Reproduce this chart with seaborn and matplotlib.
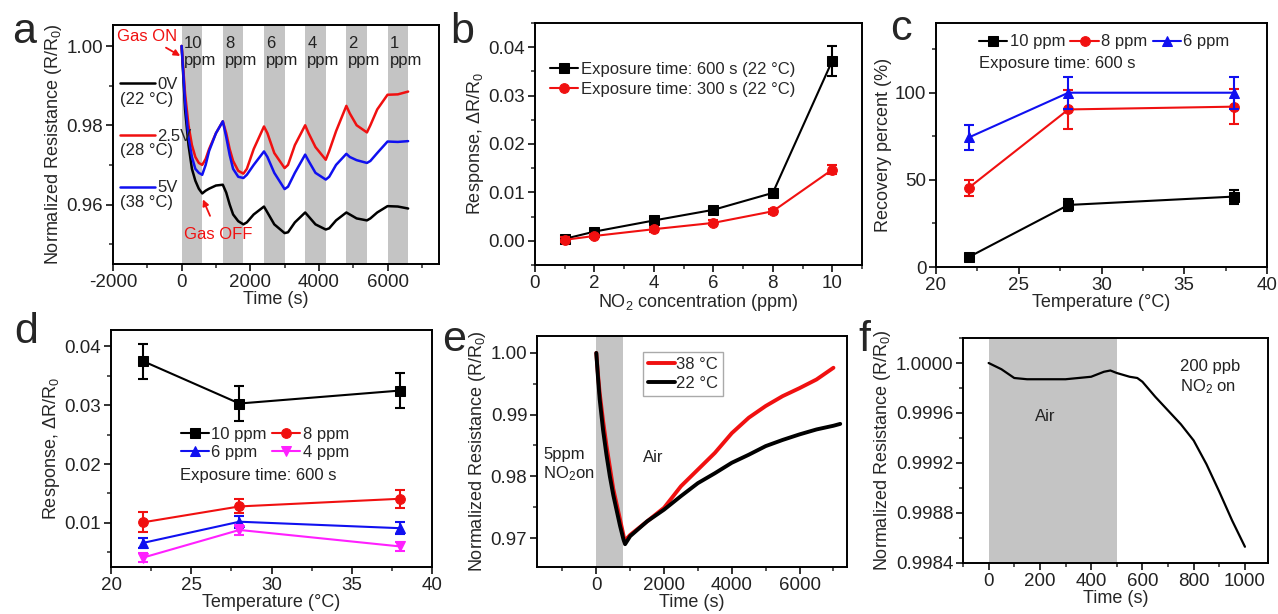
# NO2 sensor figure - six panels (a-f), redrawn with seaborn / matplotlib
import pandas as pd
import matplotlib
matplotlib.use("Agg")
import matplotlib.pyplot as plt
from matplotlib.ticker import MultipleLocator, FormatStrFormatter
import seaborn as sns

# --- panel a: dynamic response at three heater voltages ---
t_a = [0, 100, 200, 300, 400, 500, 600, 700, 800, 1000, 1200, 1300, 1400, 1500, 1650, 1800,
       1900, 2100, 2400, 2500, 2700, 3000, 3100, 3300, 3600, 3700, 3900, 4200, 4300, 4500,
       4800, 4900, 5100, 5400, 5500, 5700, 6000, 6300, 6600]
r_a_0v = [1.0, 0.984, 0.975, 0.969, 0.966, 0.964, 0.9628, 0.9635, 0.964, 0.9648, 0.965, 0.963,
          0.960, 0.9575, 0.9558, 0.955, 0.9555, 0.9575, 0.9595, 0.958, 0.955, 0.9528, 0.953,
          0.9555, 0.958, 0.957, 0.955, 0.9537, 0.954, 0.956, 0.958, 0.9575, 0.9565, 0.956,
          0.9565, 0.958, 0.9596, 0.9595, 0.959]
r_a_25v = [1.0, 0.988, 0.980, 0.975, 0.972, 0.9705, 0.970, 0.9715, 0.974, 0.978, 0.981, 0.978,
           0.974, 0.971, 0.9685, 0.9678, 0.969, 0.974, 0.9797, 0.978, 0.973, 0.9692, 0.970,
           0.975, 0.980, 0.978, 0.9745, 0.9713, 0.9735, 0.9785, 0.9849, 0.983, 0.980, 0.9782,
           0.980, 0.984, 0.9877, 0.9878, 0.9885]
r_a_5v = [1.0, 0.986, 0.977, 0.972, 0.969, 0.968, 0.9675, 0.970, 0.9735, 0.978, 0.981, 0.977,
          0.9725, 0.969, 0.967, 0.9667, 0.9675, 0.970, 0.9734, 0.972, 0.968, 0.9639, 0.9645,
          0.968, 0.9726, 0.971, 0.968, 0.9663, 0.967, 0.970, 0.9728, 0.972, 0.9712, 0.9705,
          0.971, 0.973, 0.9759, 0.9758, 0.976]
gas_on_a = [0, 1200, 2400, 3600, 4800, 6000]
gas_len_a = 600
conc_a = ['10', '8', '6', '4', '2', '1']

# --- panel b: response vs concentration ---
conc_b = [1, 2, 4, 6, 8, 10]
resp_600 = [0.0004, 0.0019, 0.0042, 0.0064, 0.0099, 0.0372]
err_600 = [0.0006, 0.0005, 0.0005, 0.0006, 0.0008, 0.0031]
resp_300 = [0.0002, 0.0010, 0.0024, 0.0037, 0.0061, 0.0147]
err_300 = [0.0005, 0.0005, 0.0005, 0.0005, 0.0005, 0.0010]

# --- panel c: recovery percent vs temperature ---
temp = [22, 28, 38]
rec_10 = [5.8, 35.6, 40.4]
rec_10_err = [1.5, 3.5, 4.0]
rec_8 = [45.6, 90.4, 92.0]
rec_8_err = [4.6, 11.0, 10.0]
rec_6 = [74.4, 100.0, 100.0]
rec_6_err = [7.3, 9.2, 9.2]

# --- panel d: response vs temperature ---
resp_d_10 = [0.0375, 0.0303, 0.0325]
resp_d_10_err = [0.003, 0.003, 0.003]
resp_d_8 = [0.0101, 0.0128, 0.0141]
resp_d_8_err = [0.0017, 0.0012, 0.0015]
resp_d_6 = [0.0066, 0.0102, 0.0091]
resp_d_6_err = [0.0008, 0.0010, 0.0010]
resp_d_4 = [0.0041, 0.0088, 0.0060]
resp_d_4_err = [0.0008, 0.0008, 0.0008]

# --- panel e: single pulse of 5 ppm at two temperatures ---
t_e_38 = [0, 50, 100, 200, 300, 400, 500, 600, 700, 800, 830, 1000, 1500, 2000, 2500, 3000,
          3500, 4000, 4500, 5000, 5500, 6000, 6500, 7000]
r_e_38 = [1.0, 0.9965, 0.9935, 0.989, 0.985, 0.9815, 0.978, 0.9755, 0.973, 0.9705, 0.9695,
          0.9705, 0.9727, 0.9749, 0.9784, 0.9811, 0.9838, 0.9870, 0.9895, 0.9914, 0.9930,
          0.9943, 0.9957, 0.9976]
t_e_22 = [0, 50, 100, 200, 300, 400, 500, 600, 700, 800, 850, 1000, 1500, 2000, 2500, 3000,
          3500, 4000, 4500, 5000, 5500, 6000, 6500, 7000, 7200]
r_e_22 = [1.0, 0.996, 0.9925, 0.9875, 0.9835, 0.980, 0.977, 0.9745, 0.972, 0.9698, 0.969,
          0.9703, 0.9727, 0.9746, 0.9768, 0.9789, 0.9805, 0.9822, 0.9835, 0.9849, 0.9859,
          0.9868, 0.9876, 0.9882, 0.9885]
gas_len_e = 800

# --- panel f: 200 ppb ---
t_f = [0, 50, 100, 150, 200, 300, 400, 450, 475, 500, 550, 580, 600, 650, 700, 750, 800,
       850, 900, 950, 1000]
r_f = [1.0, 0.99995, 0.99988, 0.99987, 0.99987, 0.99987, 0.99989, 0.99993, 0.99994, 0.99992,
       0.99989, 0.99988, 0.99985, 0.99973, 0.99962, 0.99951, 0.99938, 0.99919, 0.99897,
       0.99874, 0.99853]
air_len_f = 500

BAND = '#c4c4c4'
RED = '#f01010'
BLUE = '#1010f0'
MAG = '#ff20ff'

sns.set_style("ticks")
plt.rcParams['font.family'] = ['Liberation Sans', 'DejaVu Sans']
plt.rcParams['mathtext.fontset'] = 'custom'
plt.rcParams['mathtext.rm'] = 'Liberation Sans'
plt.rcParams['mathtext.it'] = 'Liberation Sans:italic'
plt.rcParams['axes.linewidth'] = 1.4
plt.rcParams['axes.edgecolor'] = 'black'
plt.rcParams['axes.unicode_minus'] = False

W, H = 1278, 614


def box(l, t, r, b):
    # pixel box -> figure fraction rect
    return [l / W, 1 - b / H, (r - l) / W, (b - t) / H]


def style(ax, xmaj, xmin, ymaj, ymin, yfmt):
    ax.xaxis.set_major_locator(MultipleLocator(xmaj))
    ax.xaxis.set_minor_locator(MultipleLocator(xmin))
    ax.yaxis.set_major_locator(MultipleLocator(ymaj))
    ax.yaxis.set_minor_locator(MultipleLocator(ymin))
    ax.yaxis.set_major_formatter(FormatStrFormatter(yfmt))
    ax.tick_params(which='major', direction='out', length=5, width=1.3, labelsize=13.5,
                   colors='#222222', pad=2)
    ax.tick_params(which='minor', direction='out', length=3, width=1.1)
    for s in ax.spines.values():
        s.set_linewidth(1.4)
        s.set_color('black')


def series(ax, x, y, err, color, marker, label, ms=7):
    sns.lineplot(x=x, y=y, color=color, marker=marker, markersize=ms, markeredgecolor=color,
                 linewidth=1.5, ax=ax, label=label)
    ax.errorbar(x, y, yerr=err, fmt='none', ecolor=color, elinewidth=1.5, capsize=3.5,
                capthick=1.5)


fig = plt.figure(figsize=(W / 100, H / 100), dpi=100)

# ---------------- a ----------------
ax = fig.add_axes(box(113, 25, 439, 264))
for t0 in gas_on_a:
    ax.axvspan(t0, t0 + gas_len_a, color=BAND, lw=0)
for t0, c in zip(gas_on_a, conc_a):
    ax.text(t0 + 60, 1.0025, c + '\nppm', fontsize=12, va='top', ha='left', linespacing=1.15,
            color='#222222')
sns.lineplot(x=t_a, y=r_a_0v, color='black', lw=1.8, ax=ax, label='0V')
sns.lineplot(x=t_a, y=r_a_25v, color=RED, lw=1.8, ax=ax, label='2.5V')
sns.lineplot(x=t_a, y=r_a_5v, color=BLUE, lw=1.8, ax=ax, label='5V')
ax.legend(loc='upper left', bbox_to_anchor=(0.0, 0.81), borderaxespad=0, frameon=False,
          handlelength=2.1, handletextpad=0.15, labelspacing=2.2, fontsize=12)
for yy, s in zip([0.6875, 0.475, 0.258], ['(22 °C)', '(28 °C)', '(38 °C)']):
    ax.text(0.022, yy, s, transform=ax.transAxes, fontsize=12, va='center', color='#222222')
ax.annotate('Gas ON', xy=(-40, 0.9975), xytext=(-1000, 1.0023), color=RED, fontsize=12,
            ha='center', va='center',
            arrowprops=dict(arrowstyle='-|>', color=RED, lw=1.3, mutation_scale=9,
                            shrinkA=0, shrinkB=0))
ax.annotate('Gas OFF', xy=(620, 0.9613), xytext=(1060, 0.9525), color=RED, fontsize=12,
            ha='center', va='center',
            arrowprops=dict(arrowstyle='-|>', color=RED, lw=1.3, mutation_scale=9,
                            shrinkA=6, shrinkB=0))
ax.set_xlim(-2000, 7500)
ax.set_ylim(0.945, 1.0053)
style(ax, 2000, 1000, 0.02, 0.01, '%.2f')
ax.set_xlabel('Time (s)', fontsize=13, labelpad=0)
ax.set_ylabel('Normalized Resistance (R/R$_0$)', fontsize=13, labelpad=2)

# ---------------- b ----------------
ax = fig.add_axes(box(535, 23, 862, 265))
series(ax, conc_b, resp_600, err_600, 'black', 's', 'Exposure time: 600 s (22 °C)')
series(ax, conc_b, resp_300, err_300, RED, 'o', 'Exposure time: 300 s (22 °C)')
ax.legend(loc='upper left', bbox_to_anchor=(0.0, 0.9), frameon=False, fontsize=12,
          handlelength=1.7, handletextpad=0.15, labelspacing=0.3)
ax.set_xlim(0, 11)
ax.set_ylim(-0.005, 0.045)
style(ax, 2, 1, 0.01, 0.005, '%.2f')
ax.set_xlabel('NO$_2$ concentration (ppm)', fontsize=13, labelpad=0)
ax.set_ylabel('Response, ΔR/R$_0$', fontsize=13, labelpad=2)

# ---------------- c ----------------
ax = fig.add_axes(box(936, 23, 1267, 267))
series(ax, temp, rec_10, rec_10_err, 'black', 's', '10 ppm')
series(ax, temp, rec_8, rec_8_err, RED, 'o', '8 ppm')
series(ax, temp, rec_6, rec_6_err, BLUE, '^', '6 ppm')
ax.legend(loc='upper left', bbox_to_anchor=(0.085, 1.015), ncol=3, frameon=False, fontsize=12,
          handlelength=1.7, handletextpad=0.15, columnspacing=0.3)
ax.text(0.13, 0.835, 'Exposure time: 600 s', transform=ax.transAxes, fontsize=12,
        va='center', color='#222222')
ax.set_xlim(20, 40)
ax.set_ylim(0, 140)
style(ax, 5, 2.5, 50, 25, '%d')
ax.set_xlabel('Temperature (°C)', fontsize=13, labelpad=0)
ax.set_ylabel('Recovery percent (%)', fontsize=13, labelpad=2)

# ---------------- d ----------------
ax = fig.add_axes(box(111, 330, 432, 567))
series(ax, temp, resp_d_10, resp_d_10_err, 'black', 's', '10 ppm')
series(ax, temp, resp_d_8, resp_d_8_err, RED, 'o', '8 ppm')
series(ax, temp, resp_d_6, resp_d_6_err, BLUE, '^', '6 ppm')
series(ax, temp, resp_d_4, resp_d_4_err, MAG, 'v', '4 ppm')
# legend fills column-first; reorder so rows read 10/8 and 6/4
h, l = ax.get_legend_handles_labels()
order = [0, 2, 1, 3]
ax.legend([h[i] for i in order], [l[i] for i in order], loc='upper left',
          bbox_to_anchor=(0.17, 0.655), ncol=2, frameon=False, fontsize=12,
          handlelength=1.7, handletextpad=0.15, columnspacing=0.3, labelspacing=0.2)
ax.text(0.215, 0.384, 'Exposure time: 600 s', transform=ax.transAxes, fontsize=12,
        va='center', color='#222222')
ax.set_xlim(20, 40)
ax.set_ylim(0.0025, 0.0428)
style(ax, 5, 2.5, 0.01, 0.005, '%.2f')
ax.set_xlabel('Temperature (°C)', fontsize=13, labelpad=0)
ax.set_ylabel('Response, ΔR/R$_0$', fontsize=13, labelpad=2)

# ---------------- e ----------------
ax = fig.add_axes(box(537, 336, 847, 567))
ax.axvspan(0, gas_len_e, color=BAND, lw=0)
sns.lineplot(x=t_e_38, y=r_e_38, color=RED, lw=2.8, ax=ax, label='38 °C')
sns.lineplot(x=t_e_22, y=r_e_22, color='black', lw=2.8, ax=ax, label='22 °C')
leg = ax.legend(loc='upper left', bbox_to_anchor=(0.342, 0.93), borderaxespad=0, fontsize=12,
                handlelength=1.6, handletextpad=0.1, labelspacing=0.2, fancybox=False,
                framealpha=1, borderpad=0.3)
leg.get_frame().set_edgecolor('#aaaaaa')
leg.get_frame().set_linewidth(1.0)
ax.text(-1560, 0.9848, '5ppm\nNO$_2$on', fontsize=12, va='top', ha='left', color='#222222')
ax.text(1380, 0.9843, 'Air', fontsize=12, va='top', ha='left', color='#222222')
ax.set_xlim(-1750, 7400)
ax.set_ylim(0.9653, 1.00275)
style(ax, 2000, 1000, 0.01, 0.005, '%.2f')
ax.set_xlabel('Time (s)', fontsize=13, labelpad=0)
ax.set_ylabel('Normalized Resistance (R/R$_0$)', fontsize=13, labelpad=2)

# ---------------- f ----------------
ax = fig.add_axes(box(963, 338, 1268, 563))
ax.axvspan(0, air_len_f, color=BAND, lw=0)
sns.lineplot(x=t_f, y=r_f, color='black', lw=1.6, ax=ax)
ax.text(180, 0.99957, 'Air', fontsize=12, va='center', ha='left', color='#222222')
ax.text(746, 1.00003, '200 ppb\nNO$_2$ on', fontsize=12, va='top', ha='left', color='#222222')
ax.set_xlim(-100, 1090)
ax.set_ylim(0.9984, 1.0002)
style(ax, 200, 100, 0.0004, 0.0002, '%.4f')
ax.set_xlabel('Time (s)', fontsize=13, labelpad=0)
ax.set_ylabel('Normalized Resistance (R/R$_0$)', fontsize=13, labelpad=2)

# panel letters
for s, x, y in [('a', 12, 43), ('b', 450, 43), ('c', 890, 40),
                ('d', 14, 343), ('e', 442, 351), ('f', 858, 351)]:
    fig.text(x / W, 1 - y / H, s, fontsize=31, va='baseline', ha='left')

fig.savefig('out.png', dpi=100)
